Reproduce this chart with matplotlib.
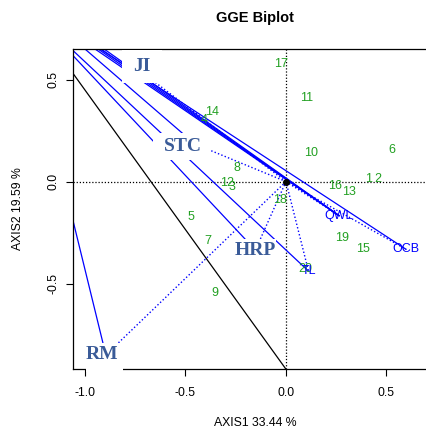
import matplotlib
matplotlib.use("Agg")
import matplotlib.pyplot as plt
import matplotlib.transforms as mtrans
from matplotlib.patches import Rectangle

plt.rcParams["font.family"] = ["Liberation Sans", "DejaVu Sans"]
plt.rcParams["axes.unicode_minus"] = False

# genotypes (green numbers)
gen_lab = ["1", "2", "3", "4", "5", "6", "7", "8", "9", "10",
           "11", "12", "13", "14", "15", "16", "17", "18", "19", "20"]
gen_x = [0.409, 0.459, -0.267, -0.406, -0.474, 0.529, -0.387, -0.242, -0.353, 0.123,
         0.103, -0.295, 0.315, -0.370, 0.382, 0.244, -0.025, -0.030, 0.277, 0.097]
gen_y = [0.011, 0.011, -0.025, 0.301, -0.175, 0.154, -0.290, 0.068, -0.545, 0.138,
         0.411, -0.009, -0.050, 0.342, -0.332, -0.021, 0.575, -0.091, -0.278, -0.431]

# environments
env_lab = ["JI", "STC", "HRP", "RM", "QWL", "OCB", "TL"]
env_x = [-0.718, -0.453, -0.152, -0.896, 0.264, 0.597, 0.112]
env_y = [0.537, 0.184, -0.336, -0.850, -0.167, -0.332, -0.439]
plain_env = ["QWL", "OCB", "TL"]          # printed in small blue type

# big pasted-on tags with white boxes
tag_lab = ["JI", "STC", "HRP", "RM"]
tag_x = [-0.718, -0.514, -0.152, -0.915]
tag_y = [0.566, 0.174, -0.336, -0.848]

# solid lines: start point -> environment
seg_env = ["TL", "HRP", "STC", "OCB", "RM", "QWL", "QWL", "QWL", "QWL"]
seg_x0 = [-1.057, -1.057, -1.000, -0.925, -1.058, -0.950, -0.935, -0.920, -0.905]
seg_y0 = [0.640, 0.615, 0.650, 0.650, -0.197, 0.650, 0.650, 0.650, 0.650]

# black reference line
blk_x = [-1.057, 0.0]
blk_y = [0.527, -0.920]

GREEN, BLUE, TAG = "#22a022", "#0000ff", "#3a5b98"
# box edges around each tag, pixels (left, right, top, bottom)
BOX = {"JI": (20, 20, 16, 17), "STC": (30, 28, 13, 14),
       "HRP": (28, 21, 11, 12), "RM": (16, 21, 12, 17)}

fig = plt.figure(figsize=(4.27, 4.32), dpi=100)
ax = fig.add_axes([73.5 / 427, 63 / 432, 363.25 / 427, 320 / 432])
ax.set_xlim(-1.057, 0.75)
ax.set_ylim(-0.919, 0.650)

ax.axhline(0, color="k", lw=0.9, ls=(0, (1, 1.5)), zorder=1)
ax.axvline(0, color="k", lw=0.9, ls=(0, (1, 1.5)), zorder=1)
ax.plot(blk_x, blk_y, color="k", lw=0.9)

ex = dict(zip(env_lab, env_x)); ey = dict(zip(env_lab, env_y))
for e, x0, y0 in zip(seg_env, seg_x0, seg_y0):
    ax.plot([x0, ex[e]], [y0, ey[e]], color=BLUE, lw=0.9)
for e in env_lab:
    ax.plot([0, ex[e]], [0, ey[e]], color=BLUE, lw=1.0, ls=(0, (1, 1.6)))
ax.plot([0], [0], "o", color="k", ms=4, zorder=4)

for t, x, y in zip(gen_lab, gen_x, gen_y):
    ax.text(x, y, t, color=GREEN, fontsize=9, ha="center", va="center", zorder=3)
for e in plain_env:
    ax.text(ex[e], ey[e], e, color=BLUE, fontsize=9, ha="center", va="center", zorder=3)

for t, x, y in zip(tag_lab, tag_x, tag_y):
    l, r, tp, b = BOX[t]
    tr = fig.dpi_scale_trans + mtrans.ScaledTranslation(x, y, ax.transData)
    ax.add_patch(Rectangle((-l / 100, -b / 100), (l + r) / 100, (tp + b) / 100,
                           transform=tr, fc="white", ec="none", zorder=2.8, clip_on=False))
    ax.text(x, y, t, color=TAG, fontsize=14, fontweight="bold", family="Liberation Serif",
            ha="center", va="center", zorder=3.5)

ax.set_xticks([-1.0, -0.5, 0.0, 0.5])
ax.set_yticks([-0.5, 0.0, 0.5])
ax.tick_params(direction="out", length=5, width=0.8, labelsize=8.8)
ax.tick_params(axis="x", pad=8)
ax.tick_params(axis="y", pad=5)
for lb in ax.get_yticklabels():
    lb.set_rotation(90); lb.set_va("center")
for s in ax.spines.values():
    s.set_linewidth(0.9)

ax.set_xlabel("AXIS1 33.44 %", fontsize=8.8, labelpad=13)
ax.set_ylabel("AXIS2 19.59 %", fontsize=8.8, labelpad=17)
fig.text(255 / 427, 1 - 18 / 432, "GGE Biplot", fontsize=10.5, fontweight="bold",
         ha="center", va="center")

fig.savefig("out.png", dpi=100)
